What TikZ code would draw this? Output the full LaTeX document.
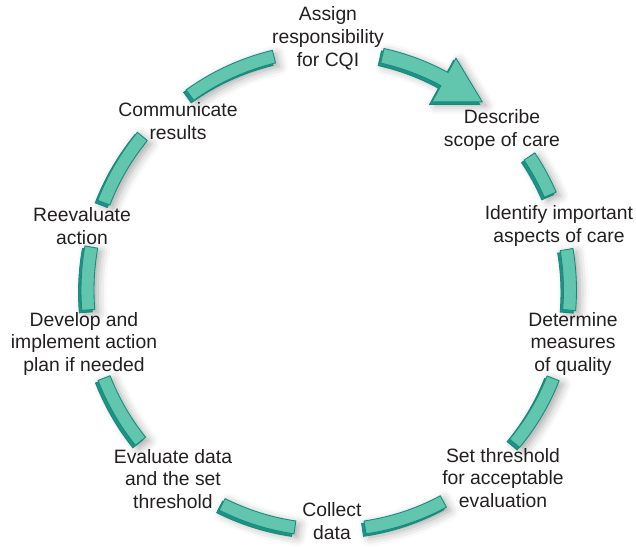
\documentclass[tikz,border=0pt]{standalone}
\usepackage{fontspec}
\setmainfont{Liberation Sans}
\usetikzlibrary{shadows.blur}
\definecolor{cqilight}{HTML}{62C6AE}
\definecolor{cqiside}{HTML}{1D9486}
\definecolor{cqiline}{HTML}{168A7C}
\definecolor{cqitext}{HTML}{231F20}
\tikzset{
  bar/.style={fill=cqilight, draw=cqiline, line width=0.5pt, line join=round,
    blur shadow={shadow xshift=2pt, shadow yshift=-2pt, shadow blur radius=5pt, shadow opacity=35},
    preaction={fill=cqiside, draw=cqiline, line width=0.5pt, transform canvas={shift={(-0.05,-0.05)}}}},
  step label/.style={align=center, text=cqitext, font=\fontsize{11}{13}\selectfont, inner sep=1pt}
}
\begin{document}
\begin{tikzpicture}
    \useasboundingbox (-6.6,-5.14) rectangle (6.12,5.8);

    % labels round the cycle
    \node[step label] (assign) at (-0.04,5.04) {Assign\\responsibility\\for CQI};
    \node[step label] (describe) at (3.44,3.2) {Describe\\scope of care};
    \node[step label] (identify) at (4.58,1.28) {Identify important\\aspects of care};
    \node[step label] (determine) at (4.86,-1.08) {Determine\\measures\\of quality};
    \node[step label] (threshold) at (3.46,-3.76) {Set threshold\\for acceptable\\evaluation};
    \node[step label] (collect) at (0.04,-4.62) {Collect\\data};
    \node[step label] (evaluate) at (-3.14,-3.78) {Evaluate data\\and the set\\threshold};
    \node[step label] (develop) at (-4.92,-1.08) {Develop and\\implement action\\plan if needed};
    \node[step label] (reevaluate) at (-4.96,1.28) {Reevaluate\\action};
    \node[step label] (communicate) at (-3.04,3.38) {Communicate\\results};

    % the arrow from assign to describe
    \draw[bar] (77.4:4.65) arc[start angle=77.4, end angle=61.5, radius=4.65]
        -- (61.5:4.28) -- (51:4.84) -- (61.5:5.28)
        -- (61.5:4.95) arc[start angle=61.5, end angle=77.4, radius=4.95] -- cycle;

    % the bars
    \draw[bar] (33.8:4.67) arc[start angle=33.8, end angle=23.4, radius=4.67] -- (23.4:4.93) arc[start angle=23.4, end angle=33.8, radius=4.93] -- cycle;
    \draw[bar] (9.7:4.67) arc[start angle=9.7, end angle=-4.8, radius=4.67] -- (-4.8:4.93) arc[start angle=-4.8, end angle=9.7, radius=4.93] -- cycle;
    \draw[bar] (-21.6:4.67) arc[start angle=-21.6, end angle=-39.7, radius=4.67] -- (-39.7:4.93) arc[start angle=-39.7, end angle=-21.6, radius=4.93] -- cycle;
    \draw[bar] (-61.8:4.67) arc[start angle=-61.8, end angle=-81.6, radius=4.67] -- (-81.6:4.93) arc[start angle=-81.6, end angle=-61.8, radius=4.93] -- cycle;
    \draw[bar] (-98.4:4.67) arc[start angle=-98.4, end angle=-116.7, radius=4.67] -- (-116.7:4.93) arc[start angle=-116.7, end angle=-98.4, radius=4.93] -- cycle;
    \draw[bar] (201.3:4.72) arc[start angle=201.3, end angle=218.6, radius=4.72] -- (218.6:4.98) arc[start angle=218.6, end angle=201.3, radius=4.98] -- cycle;
    \draw[bar] (169.8:4.72) arc[start angle=169.8, end angle=184.7, radius=4.72] -- (184.7:4.98) arc[start angle=184.7, end angle=169.8, radius=4.98] -- cycle;
    \draw[bar] (140.7:4.72) arc[start angle=140.7, end angle=158.9, radius=4.72] -- (158.9:4.98) arc[start angle=158.9, end angle=140.7, radius=4.98] -- cycle;
    \draw[bar] (103.5:4.67) arc[start angle=103.5, end angle=125.7, radius=4.67] -- (125.7:4.93) arc[start angle=125.7, end angle=103.5, radius=4.93] -- cycle;
\end{tikzpicture}
\end{document}
